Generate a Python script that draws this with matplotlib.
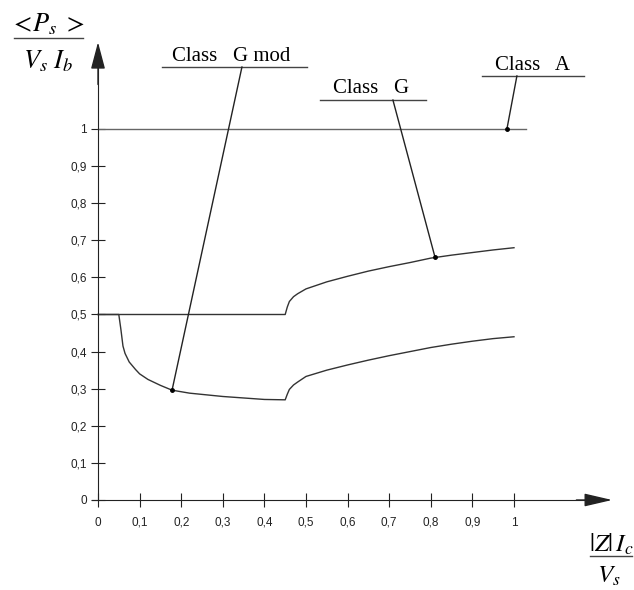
import matplotlib.pyplot as plt

plt.rcParams['mathtext.fontset'] = 'stix'

x_ticks = [0, 0.1, 0.2, 0.3, 0.4, 0.5, 0.6, 0.7, 0.8, 0.9, 1.0]
x_tick_labels = ['0', '0,1', '0,2', '0,3', '0,4', '0,5', '0,6', '0,7', '0,8', '0,9', '1']
y_ticks = [0, 0.1, 0.2, 0.3, 0.4, 0.5, 0.6, 0.7, 0.8, 0.9, 1.0]
y_tick_labels = ['0', '0,1', '0,2', '0,3', '0,4', '0,5', '0,6', '0,7', '0,8', '0,9', '1']

# Class A : constant 1
class_a_x = [0, 1.03]
class_a_y = [1.0, 1.0]

# Class G
class_g_x = [0, 0.45, 0.455, 0.46, 0.47, 0.48, 0.5, 0.55, 0.6, 0.65, 0.7, 0.75,
             0.8, 0.85, 0.9, 0.95, 1.0]
class_g_y = [0.5, 0.5, 0.52, 0.535, 0.548, 0.556, 0.569, 0.588, 0.603, 0.617,
             0.629, 0.640, 0.652, 0.660, 0.667, 0.674, 0.680]

# Class G mod
g_mod_x = [0, 0.05, 0.055, 0.06, 0.065, 0.075, 0.09, 0.1, 0.12, 0.15, 0.178,
           0.22, 0.3, 0.35, 0.4, 0.45, 0.455, 0.46, 0.47, 0.48, 0.5, 0.55, 0.6,
           0.65, 0.7, 0.75, 0.8, 0.85, 0.9, 0.95, 1.0]
g_mod_y = [0.5, 0.5, 0.46, 0.415, 0.395, 0.372, 0.352, 0.340, 0.325, 0.309, 0.296,
           0.288, 0.279, 0.275, 0.271, 0.27, 0.285, 0.298, 0.31, 0.318, 0.333, 0.35,
           0.364, 0.377, 0.389, 0.40, 0.411, 0.42, 0.428, 0.435, 0.44]

label_names = ['Class   G mod', 'Class   G', 'Class   A']
label_point_x = [0.178, 0.81, 0.983]
label_point_y = [0.296, 0.655, 1.0]

# positions des étiquettes (texte, soulignement, départ du trait)
label_text_xy = [(0.178, 1.183), (0.565, 1.097), (0.954, 1.159)]
label_line = [(0.154, 0.502, 1.167), (0.534, 0.788, 1.078), (0.923, 1.168, 1.143)]
label_lead_x = [0.346, 0.709, 1.007]

fig = plt.figure(figsize=(6.34, 5.90), dpi=100)
ax = fig.add_axes([0, 0, 1, 1])
ax.set_xlim(-0.2356, 1.2885)
ax.set_ylim(-0.2426, 1.3477)

line_col = '#333333'
ax.plot(class_a_x, class_a_y, color='#666666', lw=1.0)
ax.plot(class_g_x, class_g_y, color=line_col, lw=1.0)
ax.plot(g_mod_x, g_mod_y, color=line_col, lw=1.0)

for name, px, py, (tx, ty), (l0, l1, ly), lx in zip(label_names, label_point_x, label_point_y,
                                                     label_text_xy, label_line, label_lead_x):
    ax.text(tx, ty, name, family='Liberation Serif', fontsize=15, va='baseline', ha='left')
    ax.plot([l0, l1], [ly, ly], color='#444444', lw=1.0)
    ax.plot([lx, px], [ly, py], color='#222222', lw=1.0)
    ax.plot(px, py, 'o', color='black', ms=2.5)

# axes
for s in ['top', 'right']:
    ax.spines[s].set_visible(False)
ax.spines['left'].set_position(('data', 0))
ax.spines['bottom'].set_position(('data', 0))
ax.spines['left'].set_bounds(0, 1.18)
ax.spines['bottom'].set_bounds(-0.015, 1.19)
ax.spines['left'].set_color('#222222')
ax.spines['bottom'].set_color('#222222')

ax.annotate('', xy=(0, 1.234), xytext=(0, 1.12),
            arrowprops=dict(arrowstyle='-|>,head_length=0.83,head_width=0.22',
                            color='#222222', lw=1, mutation_scale=20,
                            shrinkA=0, shrinkB=0))
ax.annotate('', xy=(1.236, 0), xytext=(1.15, 0),
            arrowprops=dict(arrowstyle='-|>,head_length=0.86,head_width=0.2',
                            color='#222222', lw=1, mutation_scale=20,
                            shrinkA=0, shrinkB=0))

ax.set_xticks(x_ticks, x_tick_labels)
ax.set_yticks(y_ticks, y_tick_labels)
ax.tick_params(direction='inout', length=10, width=0.8, color='#222222',
               labelsize=8.5, labelcolor='#222222')
ax.tick_params(axis='x', pad=7)
ax.tick_params(axis='y', pad=3)
for lab in ax.get_xticklabels() + ax.get_yticklabels():
    lab.set_family('Liberation Sans')

# y label (fraction)
ax.text(-0.123, 1.262, r'$<\!P_s\;>$', fontsize=19, ha='center', va='baseline')
ax.plot([-0.202, -0.036], [1.245, 1.245], color='#444444', lw=1.0, clip_on=False)
ax.text(-0.12, 1.164, r'$V_s\ I_b$', fontsize=19, ha='center', va='baseline')

# x label (fraction)
ax.text(1.233, -0.140, r'$|Z|\,I_c$', fontsize=18, ha='center', va='baseline')
ax.plot([1.183, 1.284], [-0.151, -0.151], color='#444444', lw=1.0, clip_on=False)
ax.text(1.228, -0.224, r'$V_s$', fontsize=18, ha='center', va='baseline')

fig.savefig('out.png', dpi=100)
